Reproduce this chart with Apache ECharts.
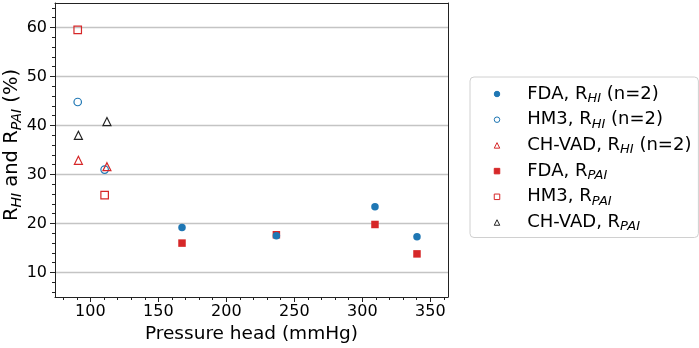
<!DOCTYPE html>
<html>
<head>
<meta charset="utf-8">
<script src="https://cdn.jsdelivr.net/npm/echarts@6/dist/echarts.min.js"></script>
<style>
  html, body { margin: 0; padding: 0; background: #fff; }
  #chart { width: 699px; height: 348px; }
</style>
</head>
<body>
<div id="chart"></div>
<script>
// values
const fdaPressure = [167.4, 236.8, 309.3, 340.2];
const fdaRHI = [19.2, 17.5, 23.4, 17.3];
const fdaRPAI = [16.0, 17.7, 19.8, 13.8];

const hm3Pressure = [90.7, 110.5];
const hm3RHI = [44.8, 31.0];
const hm3RPAI = [59.5, 25.8];

const chvadPressure = [91.2, 112.2];
const chvadRHI = [32.9, 31.6];
const chvadRPAI = [38.0, 40.8];

const xTicks = [100, 150, 200, 250, 300, 350];
const xMinorTicks = [80, 90, 110, 120, 130, 140, 160, 170, 180, 190, 210, 220, 230, 240,
  260, 270, 280, 290, 310, 320, 330, 340, 360];
const yTicks = [10, 20, 30, 40, 50, 60];
const yMinorTicks = [6, 8, 12, 14, 16, 18, 22, 24, 26, 28, 32, 34, 36, 38, 42, 44, 46, 48,
  52, 54, 56, 58, 62, 64];

const BLUE = '#1f77b4';
const RED = '#d62728';
const DARK = '#222222';
const FONT = 'DejaVu Sans';
const AXIS_COLOR = '#222';

function toPoints(xs, ys) {
  return xs.map((x, i) => [x, ys[i]]);
}

// rich text: legend labels
const legendRich = {
  g: { width: 22.5 },
  t: { fontSize: 18, fontFamily: FONT, color: '#000', lineHeight: 22, verticalAlign: 'middle' },
  s: { fontSize: 13, fontFamily: FONT, fontStyle: 'italic', color: '#000', lineHeight: 14, verticalAlign: 'bottom' },
};
// rich text: y axis title (a bit larger)
const titleRich = {
  t: { fontSize: 19.5, fontFamily: FONT, fill: '#000', lineHeight: 24, verticalAlign: 'middle' },
  s: { fontSize: 14, fontFamily: FONT, fontStyle: 'italic', fill: '#000', lineHeight: 15, verticalAlign: 'bottom' },
};

function richLabel(name) {
  return '{t|' + name.replace(/R_([A-Z]+)/g, 'R}{s|$1}{t|') + '}';
}

function scatter(name, xs, ys, symbol, color, filled, z) {
  return {
    name: name,
    type: 'scatter',
    data: toPoints(xs, ys),
    symbol: symbol,
    symbolSize: symbol === 'triangle' ? 8 : 7.5,
    z: z || 2,
    itemStyle: {
      color: filled ? color : 'rgba(0,0,0,0)',
      borderColor: color,
      borderWidth: filled ? 0 : 1.2,
      opacity: 1,
    },
  };
}

const chart = echarts.init(document.getElementById('chart'), null, { renderer: 'canvas' });

const X_MIN = 74, X_MAX = 363;
const Y_MIN = 5, Y_MAX = 65;

const option = {
  animation: false,
  backgroundColor: '#fff',
  grid: { left: 55, right: 251, top: 3, bottom: 51, containLabel: false, outerBoundsMode: 'none' },
  // y axis title, drawn as rotated rich text
  graphic: [
    {
      type: 'text',
      x: 12,
      y: 145,
      rotation: Math.PI / 2,
      style: {
        text: richLabel('R_HI and R_PAI (%)'),
        rich: titleRich,
        font: '19.5px "DejaVu Sans"',
        fill: '#000',
        align: 'center',
        verticalAlign: 'middle',
      },
    },
  ],
  legend: {
    orient: 'vertical',
    left: 470,
    top: 77,
    padding: [8, 7, 4, 23.75],
    itemWidth: 5.5,
    itemHeight: 5.5,
    itemGap: 5.7,
    backgroundColor: '#fff',
    borderColor: '#d0d0d0',
    borderWidth: 1,
    borderRadius: 4,
    itemStyle: { borderWidth: 1 },
    textStyle: { fontFamily: FONT, fontSize: 18, color: '#000', rich: legendRich },
    formatter: (name) => '{g|}' + richLabel(name),
  },
  xAxis: [
    {
      type: 'value',
      min: X_MIN,
      max: X_MAX,
      position: 'bottom',
      z: 3,
      axisLine: { show: true, lineStyle: { color: AXIS_COLOR, width: 1 } },
      axisTick: { show: true, customValues: xTicks, length: 5, lineStyle: { color: AXIS_COLOR } },
      axisLabel: { customValues: xTicks, fontSize: 16, fontFamily: FONT, color: '#000', margin: 7 },
      splitLine: { show: false },
      name: 'Pressure head (mmHg)',
      nameLocation: 'middle',
      nameGap: 26,
      nameTextStyle: { fontSize: 18.5, fontFamily: FONT, color: '#000' },
    },
    {
      type: 'value',
      min: X_MIN,
      max: X_MAX,
      position: 'bottom',
      z: 3,
      axisLine: { show: false },
      axisTick: { show: true, customValues: xMinorTicks, length: 3, lineStyle: { color: AXIS_COLOR } },
      axisLabel: { show: false },
      splitLine: { show: false },
    },
    {
      type: 'value',
      min: X_MIN,
      max: X_MAX,
      position: 'top',
      z: 3,
      axisLine: { show: true, lineStyle: { color: AXIS_COLOR, width: 1 } },
      axisTick: { show: false },
      axisLabel: { show: false },
      splitLine: { show: false },
    },
  ],
  yAxis: [
    {
      type: 'value',
      min: Y_MIN,
      max: Y_MAX,
      position: 'left',
      z: 0,
      axisLine: { show: true, lineStyle: { color: AXIS_COLOR, width: 1 } },
      axisTick: { show: true, customValues: yTicks, length: 5, lineStyle: { color: AXIS_COLOR } },
      axisLabel: { customValues: yTicks, fontSize: 16, fontFamily: FONT, color: '#000', margin: 8 },
      splitLine: { show: true, lineStyle: { color: '#c4c4c4', width: 1.3 } },
    },
    {
      type: 'value',
      min: Y_MIN,
      max: Y_MAX,
      position: 'left',
      z: 3,
      axisLine: { show: false },
      axisTick: { show: true, customValues: yMinorTicks, length: 3, lineStyle: { color: AXIS_COLOR } },
      axisLabel: { show: false },
      splitLine: { show: false },
    },
    {
      type: 'value',
      min: Y_MIN,
      max: Y_MAX,
      position: 'right',
      z: 3,
      axisLine: { show: true, lineStyle: { color: AXIS_COLOR, width: 1 } },
      axisTick: { show: false },
      axisLabel: { show: false },
      splitLine: { show: false },
    },
  ],
  series: [
    scatter('FDA, R_HI (n=2)', fdaPressure, fdaRHI, 'circle', BLUE, true, 4),
    scatter('HM3, R_HI (n=2)', hm3Pressure, hm3RHI, 'circle', BLUE, false),
    scatter('CH-VAD, R_HI (n=2)', chvadPressure, chvadRHI, 'triangle', RED, false),
    scatter('FDA, R_PAI', fdaPressure, fdaRPAI, 'rect', RED, true),
    scatter('HM3, R_PAI', hm3Pressure, hm3RPAI, 'rect', RED, false),
    scatter('CH-VAD, R_PAI', chvadPressure, chvadRPAI, 'triangle', DARK, false),
  ],
};

chart.setOption(option);
</script>
</body>
</html>
